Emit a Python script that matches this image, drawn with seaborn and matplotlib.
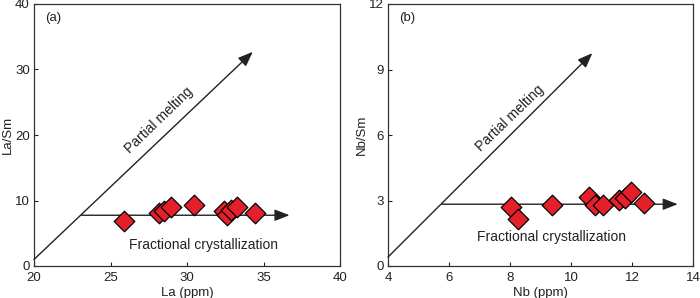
import seaborn as sns
import pandas as pd
import matplotlib.pyplot as plt

# panel (a): La vs La/Sm
la = [25.9, 28.15, 28.5, 28.98, 30.45, 32.4, 32.6, 32.9, 33.3, 34.45]
la_sm = [6.85, 8.1, 8.4, 9.0, 9.35, 8.4, 7.8, 8.5, 9.0, 8.1]

# panel (b): Nb vs Nb/Sm
nb = [8.02, 8.26, 9.38, 10.6, 10.78, 11.05, 11.58, 11.78, 11.98, 12.4]
nb_sm = [2.72, 2.15, 2.81, 3.15, 2.8, 2.78, 3.02, 3.12, 3.4, 2.9]

df_a = pd.DataFrame({"La (ppm)": la, "La/Sm": la_sm})
df_b = pd.DataFrame({"Nb (ppm)": nb, "Nb/Sm": nb_sm})

sns.set_style("ticks")
plt.rcParams['font.family'] = ['Liberation Sans', 'DejaVu Sans']

fig = plt.figure(figsize=(7, 2.98), dpi=100)
ax1 = fig.add_axes([34/700, 1-266/298, 306/700, 262/298])
ax2 = fig.add_axes([388/700, 1-266/298, 305/700, 262/298])

dark = '#222222'
arrow = dict(arrowstyle='-|>,head_length=0.9,head_width=0.35', color=dark, lw=1.0, shrinkA=0, shrinkB=0)


def panel(ax, df, x, y, xlim, ylim, xticks, yticks, melt, frac, tag, pm_pos, fc_pos):
    ax.annotate('', xy=melt[1], xytext=melt[0], arrowprops=arrow)
    ax.annotate('', xy=frac[1], xytext=frac[0], arrowprops=arrow)
    sns.scatterplot(data=df, x=x, y=y, ax=ax, marker='D', s=110, color='#e5202a',
                    edgecolor='black', linewidth=0.9, zorder=3)
    ax.set_xlim(xlim)
    ax.set_ylim(ylim)
    ax.set_xticks(xticks)
    ax.set_yticks(yticks)
    ax.tick_params(direction='in', length=3, width=0.8, labelsize=9.5, colors=dark, pad=3)
    ax.tick_params(axis='x', pad=4.5)
    for s in ax.spines.values():
        s.set_linewidth(0.9)
        s.set_color('#333333')
    ax.set_xlabel(x, fontsize=9.5, labelpad=2, color=dark)
    ax.set_ylabel(y, fontsize=9.5, labelpad=1, color=dark)
    ax.text(0.036, 0.947, tag, transform=ax.transAxes, fontsize=9.5, color=dark, va='center')
    ax.text(pm_pos[0], pm_pos[1], 'Partial melting', rotation=44, fontsize=10,
            ha='center', va='center', color=dark)
    ax.text(fc_pos[0], fc_pos[1], 'Fractional crystallization', fontsize=10,
            ha='center', va='center', color=dark)


panel(ax1, df_a, "La (ppm)", "La/Sm", (20, 40), (0, 40), [20, 25, 30, 35, 40], [0, 10, 20, 30, 40],
      ((20, 1.0), (34.3, 32.7)), ((23.1, 7.75), (36.7, 7.75)), '(a)', (28.2, 22.3), (31.05, 3.2))
panel(ax2, df_b, "Nb (ppm)", "Nb/Sm", (4, 14), (0, 12), [4, 6, 8, 10, 12, 14], [0, 3, 6, 9, 12],
      ((4, 0.41), (10.7, 9.75)), ((5.77, 2.83), (13.5, 2.83)), '(b)', (8.0, 6.78), (9.37, 1.31))

fig.savefig('out.png', dpi=100)
